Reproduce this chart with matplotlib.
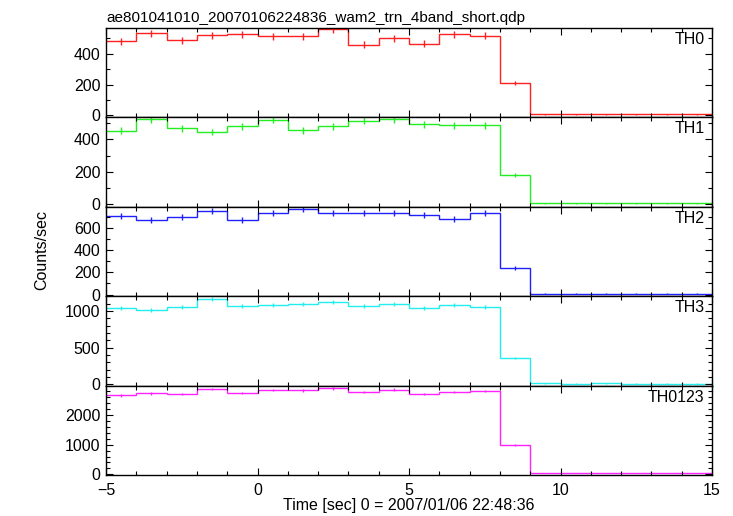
import matplotlib
matplotlib.use("Agg")
import matplotlib.pyplot as plt
from matplotlib.ticker import MultipleLocator
import numpy as np

plt.rcParams['font.family'] = ['Liberation Sans', 'DejaVu Sans']

title = "ae801041010_20070106224836_wam2_trn_4band_short.qdp"
xlabel = "Time [sec] 0 = 2007/01/06 22:48:36"
ylabel = "Counts/sec"

bin_edges = [-5, -4, -3, -2, -1, 0, 1, 2, 3, 4, 5, 6, 7, 8, 9, 10, 11, 12, 13, 14, 15]

th0 = [481, 534, 488, 521, 525, 512, 514, 560, 460, 501, 466, 527, 518, 209, 9, 8, 9, 8, 8, 8]
th1 = [454, 527, 469, 446, 481, 522, 457, 481, 516, 527, 494, 488, 488, 179, 5, 5, 5, 5, 5, 5]
th2 = [703, 669, 696, 748, 669, 732, 771, 735, 730, 730, 712, 678, 735, 237, 8, 8, 8, 8, 8, 8]
th3 = [1037, 1009, 1050, 1164, 1064, 1082, 1100, 1118, 1064, 1095, 1041, 1077, 1059, 363, 12, 11, 12, 11, 11, 11]
th0123 = [2668, 2736, 2713, 2882, 2747, 2848, 2838, 2905, 2780, 2858, 2713, 2780, 2814, 980, 34, 32, 34, 32, 32, 32]

err0 = [22, 23, 22, 23, 23, 23, 23, 24, 21, 22, 22, 23, 23, 14, 3, 3, 3, 3, 3, 3]
err1 = [21, 23, 22, 21, 22, 23, 21, 22, 23, 23, 22, 22, 22, 13, 2, 2, 2, 2, 2, 2]
err2 = [27, 26, 26, 27, 26, 27, 28, 27, 27, 27, 27, 26, 27, 16, 3, 3, 3, 3, 3, 3]
err3 = [27, 26, 27, 28, 27, 27, 27, 28, 27, 27, 26, 27, 27, 16, 3, 3, 3, 3, 3, 3]
err0123 = [45, 46, 46, 47, 46, 47, 47, 47, 46, 47, 46, 46, 46, 27, 5, 5, 5, 5, 5, 5]

labels = ["TH0", "TH1", "TH2", "TH3", "TH0123"]
colors = ["#ff2020", "#22ee22", "#2020ff", "#22eeee", "#ff22ff"]
ylims = [(-10, 567), (-15, 539), (-13, 790), (-23, 1204), (-24, 2980)]
ymajor = [200, 200, 200, 500, 1000]
yminor = [100, 100, 100, 100, 200]
series = [th0, th1, th2, th3, th0123]
errors = [err0, err1, err2, err3, err0123]

W, H = 733, 516
fig = plt.figure(figsize=(W / 100, H / 100), dpi=100)
left_px, right_px = 106, 712
tops = [28, 117, 206.5, 296, 386, 475]

edges = np.array(bin_edges, dtype=float)
centers = (edges[:-1] + edges[1:]) / 2

axes = []
for i in range(5):
    top, bot = tops[i], tops[i + 1]
    ax = fig.add_axes([left_px / W, 1 - bot / H, (right_px - left_px) / W, (bot - top) / H])
    axes.append(ax)
    ax.stairs(series[i], edges, color=colors[i], lw=1.0, baseline=None)
    ax.errorbar(centers, series[i], yerr=errors[i], fmt='none', ecolor=colors[i], elinewidth=1.0, capsize=0)
    ax.set_xlim(-5, 15)
    ax.set_ylim(*ylims[i])
    ax.xaxis.set_major_locator(MultipleLocator(5))
    ax.xaxis.set_minor_locator(MultipleLocator(1))
    ax.yaxis.set_major_locator(MultipleLocator(ymajor[i]))
    ax.yaxis.set_minor_locator(MultipleLocator(yminor[i]))
    ax.tick_params(which='both', direction='in', top=True, right=True, labelsize=11.5, width=0.8, colors='black')
    ax.tick_params(which='major', length=5)
    ax.tick_params(which='minor', length=3)
    ax.tick_params(axis='x', which='major', pad=6)
    ax.tick_params(axis='y', which='major', pad=4)
    for sp in ax.spines.values():
        sp.set_linewidth(1.0)
    if i < 4:
        ax.tick_params(labelbottom=False)
    ax.text(0.988, 0.95, labels[i], transform=ax.transAxes, ha='right', va='top', fontsize=11.5)

axes[0].set_title(title, loc='left', fontsize=11, pad=4)
axes[4].set_xlabel(xlabel, fontsize=11.5, labelpad=0)
fig.text(42 / W, 1 - 250 / H, ylabel, rotation=90, ha='center', va='center', fontsize=11.5)

fig.savefig("out.png", dpi=100)
